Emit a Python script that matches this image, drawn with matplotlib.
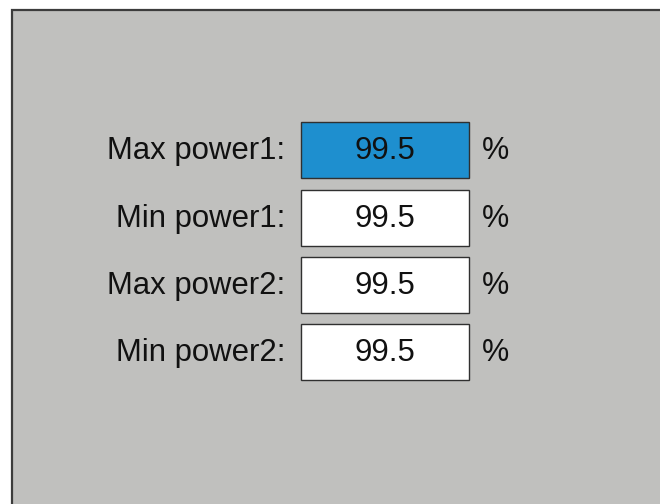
"""Power settings panel – recreated as a matplotlib figure."""

import matplotlib
matplotlib.use("Agg")
import matplotlib.pyplot as plt
from matplotlib.patches import Rectangle

labels = ["Max power1:", "Min power1:", "Max power2:", "Min power2:"]
values = [99.5, 99.5, 99.5, 99.5]
unit = "%"
selected = 0  # highlighted field

W, H = 660, 504
plt.rcParams["font.family"] = ["Liberation Sans", "DejaVu Sans"]

fig = plt.figure(figsize=(W / 100, H / 100), dpi=100)
ax = fig.add_axes([0, 0, 1, 1])
ax.set_xlim(0, W)
ax.set_ylim(H, 0)
ax.axis("off")
fig.patch.set_facecolor("white")

# panel background, border only on top/left
ax.add_patch(Rectangle((12, 10), W, H, facecolor="#c0c0be", edgecolor="none"))
ax.plot([12, 12, W], [H, 10, 10], color="#3c3c3c", linewidth=1.6,
        solid_joinstyle="miter")

box_x, box_w, box_h = 301, 168, 56
tops = [122, 190, 257, 324]

for i, (lab, val) in enumerate(zip(labels, values)):
    y0 = tops[i]
    yc = y0 + box_h / 2 + 1
    face = "#1e8fcf" if i == selected else "white"
    ax.add_patch(Rectangle((box_x, y0), box_w, box_h, facecolor=face,
                           edgecolor="#303030", linewidth=1.0))
    ax.text(285, yc, lab, ha="right", va="center", fontsize=22.4, color="#111111")
    ax.text(box_x + box_w / 2, yc, f"{val:.1f}", ha="center", va="center",
            fontsize=22.4, color="#111111")
    ax.text(482, yc, unit, ha="left", va="center", fontsize=22, color="#111111")

fig.savefig("out.png", dpi=100)
plt.close(fig)
